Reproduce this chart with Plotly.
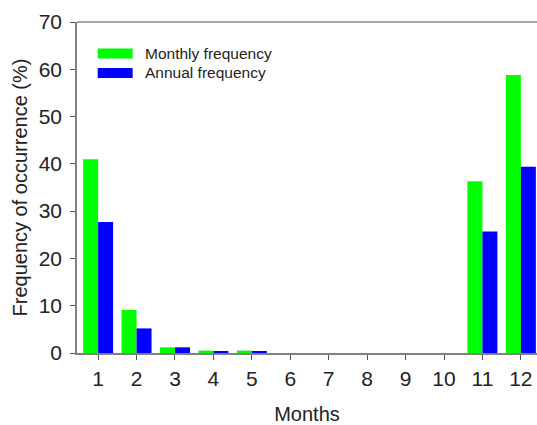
import plotly.graph_objects as go

months = list(range(1, 13))
month_labels = [str(m) for m in months]
monthly_freq = [41.0, 9.1, 1.2, 0.5, 0.5, 0, 0, 0, 0, 0, 36.3, 58.8]
annual_freq = [27.7, 5.2, 1.2, 0.3, 0.3, 0, 0, 0, 0, 0, 25.7, 39.4]
series_names = ["Monthly frequency", "Annual frequency"]
series_colors = ["#00FF00", "#0000FF"]

FONT = "Liberation Sans, Arial, sans-serif"

fig = go.Figure()
for name, vals, col in zip(series_names, [monthly_freq, annual_freq], series_colors):
    fig.add_trace(go.Bar(x=months, y=vals, name=name, marker_color=col,
                         marker_line_width=0, showlegend=False))

# manual legend (wide colour patches + text)
leg_y = [0.905, 0.846]
for nm, col, yy in zip(series_names, series_colors, leg_y):
    fig.add_shape(type="rect", xref="paper", yref="paper",
                  x0=0.045, x1=0.121, y0=yy - 0.015, y1=yy + 0.015,
                  fillcolor=col, line_width=0)
    fig.add_annotation(xref="paper", yref="paper", x=0.143, y=yy, text=nm,
                       showarrow=False, xanchor="left", yanchor="middle",
                       font=dict(family=FONT, size=15.5, color="#222"))

# top frame line
fig.add_shape(type="line", xref="paper", yref="paper", x0=0, x1=1, y0=1, y1=1,
              line=dict(color="#8a8a8a", width=1.5))

fig.update_layout(
    width=537, height=425,
    margin=dict(l=77, r=0, t=22, b=72),
    barmode="group", bargap=0.22, bargroupgap=0,
    plot_bgcolor="white", paper_bgcolor="white",
    font=dict(family=FONT, size=21, color="#222"),
    xaxis=dict(range=[0.45, 12.42], tickvals=months, ticktext=month_labels,
               showgrid=False, zeroline=False, showline=True, linecolor="#808080",
               linewidth=1.5, ticks="outside", ticklen=5, tickcolor="#555",
               ticklabelstandoff=1,
               title=dict(text="Months", font=dict(size=20), standoff=18)),
    yaxis=dict(range=[0, 70], tickvals=[0, 10, 20, 30, 40, 50, 60, 70],
               showgrid=False, zeroline=False, showline=True, linecolor="#808080",
               linewidth=1.5, ticks="outside", ticklen=5, tickcolor="#555",
               ticklabelstandoff=4,
               title=dict(text="Frequency of occurrence (%)", font=dict(size=20), standoff=6)),
)

fig.write_html("out.html")
